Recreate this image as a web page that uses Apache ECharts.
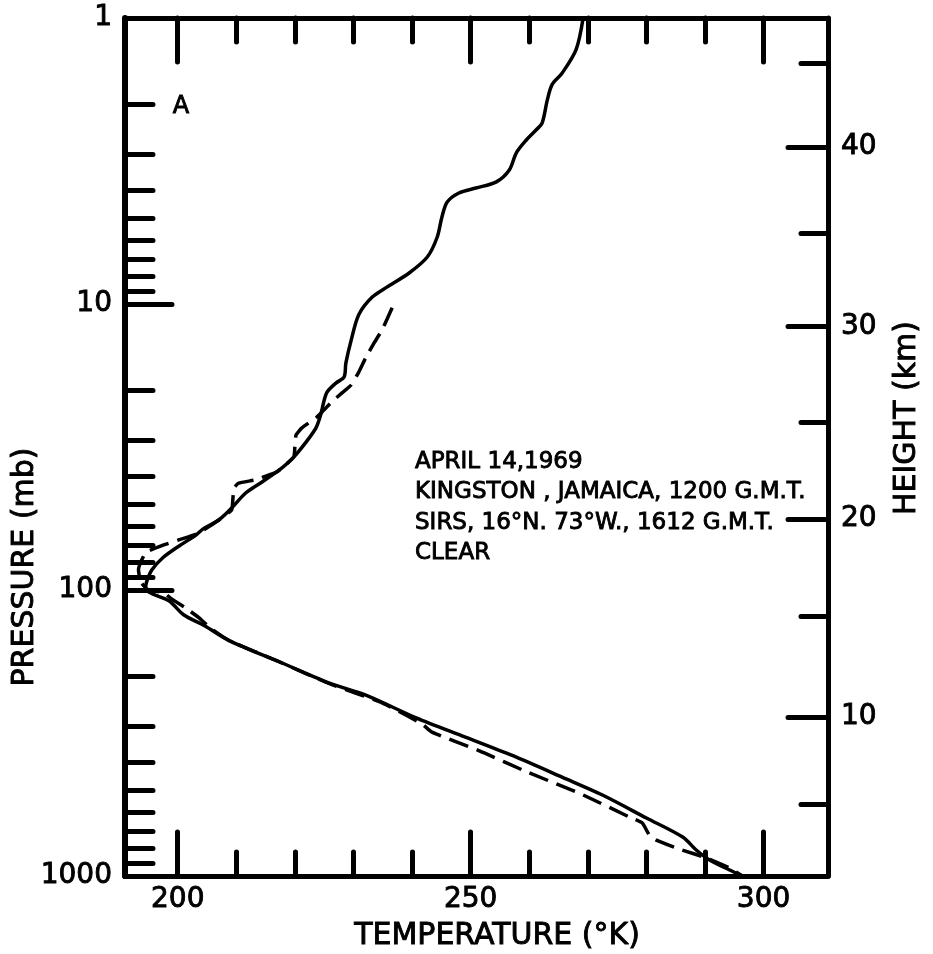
<!DOCTYPE html>
<html>
<head>
<meta charset="utf-8">
<title>Temperature profile, Kingston 1969</title>
<script src="https://cdn.jsdelivr.net/npm/echarts@6/dist/echarts.min.js"></script>
<style>
  html, body { margin: 0; padding: 0; background: #fff; }
  #chart { width: 933px; height: 954px; }
</style>
</head>
<body>
<div id="chart"></div>
<script>
// Kingston radiosonde (solid line): temperature (K) and pressure (mb)
let kingstonTemp = [269.2, 268.0, 265.6, 263.9, 263.1, 262.2, 261.2, 259.5, 257.8, 256.6,
    254.4, 250.9, 248.0, 246.0, 245.1, 244.3, 242.6, 239.5, 235.7, 233.2,
    230.9, 229.6, 228.7, 228.4, 227.0, 225.5, 225.0, 224.4, 223.6, 221.9,
    219.8, 217.8, 214.4, 211.6, 209.2, 207.0, 204.4, 203.0, 200.3, 197.5,
    195.6, 194.7, 194.5, 195.6, 198.5, 201.0, 204.5, 208.7, 217.8, 226.0,
    232.1, 240.7, 249.1, 257.8, 265.6, 272.5, 280.0, 286.2, 288.5, 290.8,
    294.2, 296.4];
let kingstonPres = [1.0, 1.29, 1.56, 1.71, 1.93, 2.33, 2.46, 2.67, 2.96, 3.40,
    3.74, 3.93, 4.09, 4.40, 4.96, 5.83, 6.85, 7.79, 8.73, 9.46,
    10.9, 13.4, 16.1, 18.0, 18.9, 20.3, 21.7, 24.4, 27.1, 30.4,
    34.3, 37.4, 41.9, 45.8, 51.7, 56.9, 61.0, 64.5, 70.0, 77.0,
    85.0, 93.5, 99.0, 103, 109, 122, 133, 150, 180, 212,
    233, 280, 327, 384, 451, 521, 627, 731, 811, 879,
    953, 1000];

// SIRS retrieval (dashed line)
let sirsTemp = [236.6, 234.9, 233.5, 232.1, 230.9, 229.6, 228.0, 226.3, 224.6, 223.6,
    221.2, 220.2, 220.0, 219.8, 217.8, 216.9, 215.6, 213.3, 210.4, 209.6,
    209.4, 209.2, 207.0, 203.6, 200.7, 197.6, 194.5, 193.3, 193.7, 195.0,
    197.6, 198.8, 201.2, 203.6, 205.6, 208.7, 217.8, 226.0, 234.9, 241.7,
    243.4, 251.5, 260.0, 268.5, 277.1, 279.3, 280.5, 281.7, 285.6, 290.3,
    294.2, 296.4];
let sirsPres = [10.3, 12.3, 13.7, 15.4, 17.3, 19.2, 20.5, 22.0, 23.9, 25.0,
    27.1, 28.7, 31.6, 34.3, 37.4, 38.7, 39.6, 41.2, 42.3, 44.0,
    48.5, 52.5, 56.9, 63.2, 66.3, 69.6, 74.2, 84.9, 93.8, 100,
    102, 107, 115, 125, 136, 150, 180, 213, 248, 294,
    314, 365, 436, 513, 622, 653, 719, 749, 805, 865,
    938, 1000];

// axes
let tempLabels = [200, 250, 300];
let tempMinor = [210, 220, 230, 240, 260, 270, 280, 290];
let pressureLabels = [1, 10, 100, 1000];
let pressureMinor = [2, 3, 4, 5, 6, 7, 8, 9, 20, 30, 40, 50, 60, 70, 80, 90,
    200, 300, 400, 500, 600, 700, 800, 900];
// height scale on the right, read as the pressure at each height level
let heightMajorKm = [10, 20, 30, 40];
let heightMajorPres = [278, 56.5, 12.0, 2.83];
let heightMinorKm = [5, 15, 25, 35, 45];
let heightMinorPres = [560, 124, 25.9, 5.65, 1.44];

let notes = ['APRIL 14,1969', 'KINGSTON , JAMAICA, 1200 G.M.T.',
    'SIRS, 16°N. 73°W., 1612 G.M.T.', 'CLEAR'];

const zip = (a, b) => a.map((v, i) => [v, b[i]]);
const FONT = 'DejaVu Sans';
const INK = '#000';

let myChart = echarts.init(document.getElementById('chart'), null, {renderer: 'canvas'});

let xAxisBase = (pos, ticks, len, line, label) => ({
    type: 'value', position: pos, min: 191, max: 311,
    axisLine: {show: line, onZero: false, lineStyle: {color: INK, width: 5}},
    axisTick: {show: true, inside: true, length: len, customValues: ticks,
        lineStyle: {color: INK, width: 5, cap: 'round'}},
    axisLabel: {show: label, customValues: ticks, color: INK, fontFamily: FONT,
        fontSize: 28, margin: 10, textBorderColor: INK, textBorderWidth: 0.9},
    splitLine: {show: false}
});

let yAxisBase = (pos, ticks, len, line, label, fmt) => ({
    type: 'log', logBase: 10, position: pos, min: 1, max: 1000, inverse: true,
    axisLine: {show: line, onZero: false, lineStyle: {color: INK, width: pos === 'left' ? 6 : 5}},
    axisTick: {show: true, inside: true, length: len, customValues: ticks,
        lineStyle: {color: INK, width: 5, cap: 'round'}},
    axisLabel: {show: label, customValues: ticks, color: INK, fontFamily: FONT,
        fontSize: 28, margin: 13, formatter: fmt, textBorderColor: INK, textBorderWidth: 0.9},
    splitLine: {show: false},
    minorTick: {show: false}
});

let pressFmt = v => String(Math.round(v));
let heightFmt = v => {
    for (let i = 0; i < heightMajorPres.length; i++) {
        if (Math.abs(v - heightMajorPres[i]) < 1e-6 * heightMajorPres[i]) {
            return String(heightMajorKm[i]);
        }
    }
    return '';
};

let textEl = (txt, x, y, size, rot, align) => ({
    type: 'text', x: x, y: y, rotation: rot || 0, silent: true,
    style: {text: txt, fill: INK, fontFamily: FONT, fontSize: size,
        stroke: INK, lineWidth: 0.9,
        align: align || 'center', verticalAlign: 'middle'}
});

let option = {
    animation: false,
    backgroundColor: '#fff',
    grid: {left: 125, top: 18, right: 105, bottom: 78, containLabel: false},
    xAxis: [
        xAxisBase('bottom', tempLabels, 44, true, true),
        xAxisBase('bottom', tempMinor, 24, false, false),
        xAxisBase('top', tempLabels, 44, true, false),
        xAxisBase('top', tempMinor, 24, false, false)
    ],
    yAxis: [
        yAxisBase('left', pressureLabels, 47, true, true, pressFmt),
        yAxisBase('left', pressureMinor, 28, false, false, pressFmt),
        yAxisBase('right', heightMajorPres, 40, true, true, heightFmt),
        yAxisBase('right', heightMinorPres, 27, false, false, heightFmt)
    ],
    series: [
        {
            name: 'KINGSTON', type: 'line', xAxisIndex: 0, yAxisIndex: 0,
            data: zip(kingstonTemp, kingstonPres),
            symbol: 'none', smooth: 0.3,
            lineStyle: {color: INK, width: 3.5}
        },
        {
            name: 'SIRS', type: 'line', xAxisIndex: 0, yAxisIndex: 0,
            data: zip(sirsTemp, sirsPres),
            symbol: 'none', smooth: 0.15,
            lineStyle: {color: INK, width: 3.5, type: [20, 9]}
        }
    ],
    graphic: [
        textEl('A', 181, 107, 24),
        textEl(notes[0], 415, 462, 23, 0, 'left'),
        textEl(notes[1], 415, 492, 23, 0, 'left'),
        textEl(notes[2], 415, 523, 23, 0, 'left'),
        textEl(notes[3], 415, 553, 23, 0, 'left'),
        textEl('PRESSURE (mb)', 25, 567, 30, Math.PI / 2),
        textEl('HEIGHT (km)', 907, 418, 30, Math.PI / 2),
        textEl('TEMPERATURE (°K)', 497, 936, 30)
    ]
};
myChart.setOption(option);
</script>
</body>
</html>
